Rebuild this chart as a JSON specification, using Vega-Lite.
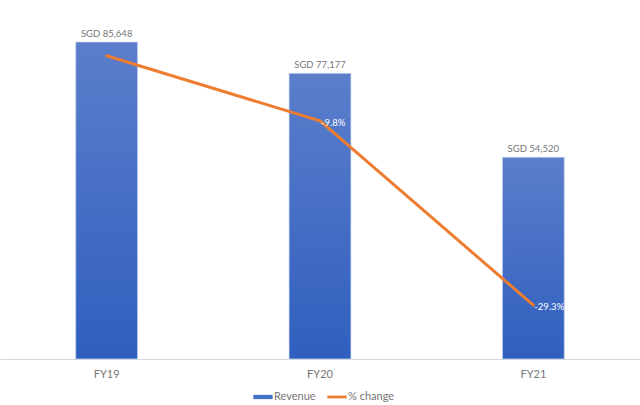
{
  "$schema": "https://vega.github.io/schema/vega-lite/v6.json",
  "width": 640,
  "height": 359,
  "autosize": {"type": "none"},
  "padding": {"left": 0, "top": 0, "right": 0, "bottom": 46},
  "background": "white",
  "config": {
    "view": {"stroke": null},
    "font": "Lato"
  },
  "data": {
    "values": [
      {"year": "FY19", "revenue": 85648, "label": "SGD 85,648", "pct": -2.9, "pctLabel": "", "s2": "% change"},
      {"year": "FY20", "revenue": 77177, "label": "SGD 77,177", "pct": -9.8, "pctLabel": "-9.8%", "s2": "% change"},
      {"year": "FY21", "revenue": 54520, "label": "SGD 54,520", "pct": -29.3, "pctLabel": "-29.3%", "s2": "% change"}
    ]
  },
  "encoding": {
    "x": {
      "field": "year",
      "type": "nominal",
      "sort": null,
      "scale": {"paddingInner": 0.71, "paddingOuter": 0.355},
      "axis": {
        "title": null,
        "labelAngle": 0,
        "ticks": false,
        "domainColor": "#D9D9D9",
        "labelColor": "#767676",
        "labelFont": "Lato",
        "labelFontSize": 11,
        "labelPadding": 9
      }
    }
  },
  "layer": [
    {
      "layer": [
        {
          "mark": {
            "type": "bar",
            "stroke": "#C9D6F0",
            "strokeWidth": 0.7,
            "fill": {
              "gradient": "linear",
              "x1": 0, "y1": 0, "x2": 0, "y2": 1,
              "stops": [
                {"offset": 0, "color": "#5B7ECB"},
                {"offset": 1, "color": "#2F5FBE"}
              ]
            }
          },
          "encoding": {
            "y": {"field": "revenue", "type": "quantitative", "scale": {"domain": [0, 97000], "nice": false}, "axis": null}
          }
        },
        {
          "mark": {"type": "text", "baseline": "bottom", "dy": -3, "fontSize": 9.5, "color": "#767676", "font": "Lato"},
          "encoding": {
            "y": {"field": "revenue", "type": "quantitative"},
            "text": {"field": "label"}
          }
        }
      ]
    },
    {
      "layer": [
        {
          "mark": {"type": "line", "strokeWidth": 3, "strokeCap": "round"},
          "encoding": {
            "y": {"field": "pct", "type": "quantitative", "scale": {"domain": [-35, 3], "nice": false, "zero": false}, "axis": null},
            "color": {
              "field": "s2",
              "type": "nominal",
              "scale": {"domain": ["Revenue", "% change"], "range": ["#4472C4", "#ED7D31"]},
              "legend": {
                "orient": "none",
                "legendX": 253,
                "legendY": 387,
                "direction": "horizontal",
                "title": null,
                "symbolSize": 361,
                "columnPadding": 10,
                "labelOffset": 1,
                "labelFont": "Lato",
                "labelFontSize": 11,
                "labelColor": "#767676",
                "values": ["Revenue", "% change"],
                "encode": {
                  "symbols": {
                    "update": {
                      "shape": {"signal": "datum.value === 'Revenue' ? 'M-1,-0.21H1V0.21H-1Z' : 'M-1,-0.13H1V0.13H-1Z'"},
                      "fill": {"signal": "datum.value === 'Revenue' ? '#4472C4' : '#ED7D31'"},
                      "stroke": {"signal": "datum.value === 'Revenue' ? '#4472C4' : '#ED7D31'"},
                      "strokeWidth": {"value": 0.3}
                    }
                  }
                }
              }
            }
          }
        },
        {
          "mark": {"type": "text", "align": "left", "baseline": "middle", "dx": 1, "dy": 2, "fontSize": 9.5, "color": "white", "font": "Lato"},
          "encoding": {
            "y": {"field": "pct", "type": "quantitative"},
            "text": {"field": "pctLabel"}
          }
        }
      ]
    }
  ],
  "resolve": {"scale": {"y": "independent"}}
}
